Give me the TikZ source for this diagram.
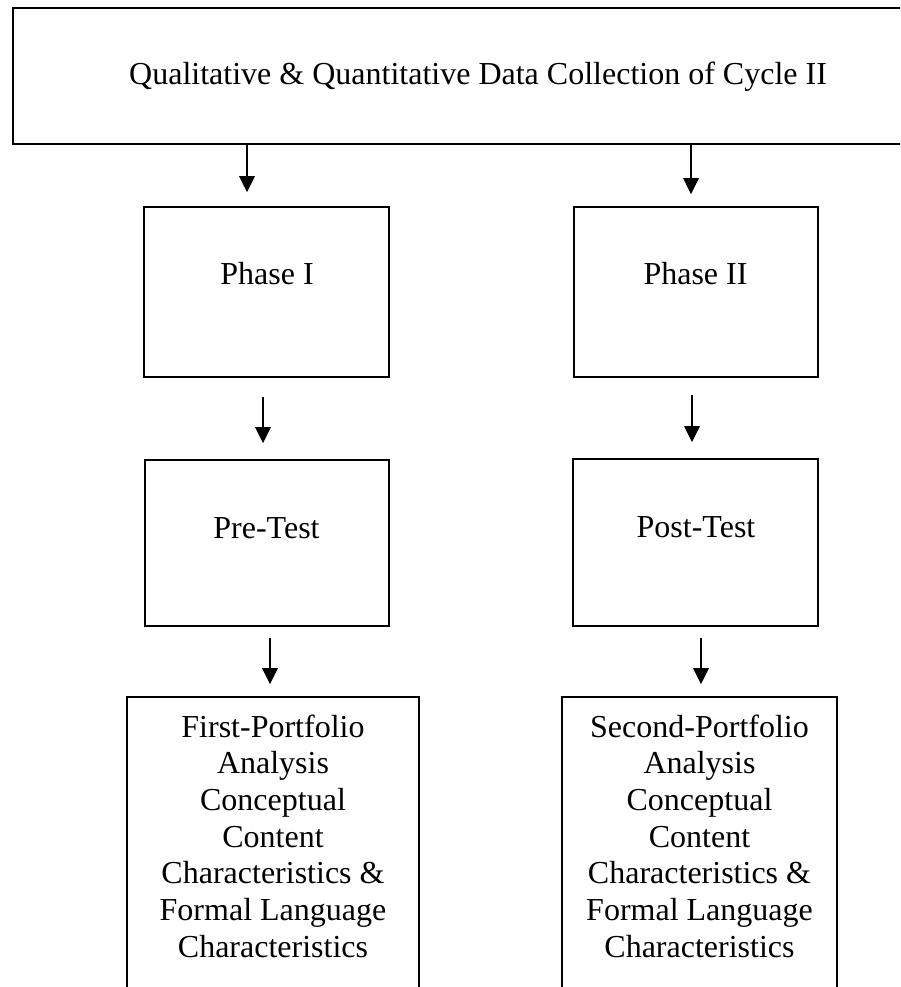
\documentclass[tikz,border=0pt]{standalone}
\usepackage{fontspec}
\setmainfont{Liberation Serif}
\usetikzlibrary{arrows.meta,fit}
\begin{document}
\begin{tikzpicture}[x=0.75pt,y=-0.75pt,
  box/.style={draw, line width=1.3pt, inner sep=0pt, rectangle},
  topbox/.style={draw, line width=1.8pt, inner sep=0pt, rectangle},
  txt/.style={font=\fontsize{24pt}{27.5pt}\selectfont, inner sep=0pt, align=center},
  arr/.style={line width=1.5pt, -{Triangle[length=12pt,width=11.5pt]}}]
\useasboundingbox (0,0) rectangle (900,987);
\clip (0,0) rectangle (900,987);

% frames
\node[topbox, fit={(13,8) (930,144)}] (top) {};
\node[box, fit={(144,207) (389,377)}] (ph1) {};
\node[box, fit={(574,207) (818,377)}] (ph2) {};
\node[box, fit={(145,460) (389,626)}] (pre) {};
\node[box, fit={(573,459) (818,626)}] (post) {};
\node[box, fit={(127,697) (419,1010)}] (an1) {};
\node[box, fit={(562,697) (837,1010)}] (an2) {};

% labels (multi-line labels are anchored on their last baseline)
\node[txt, anchor=base] (ttop) at (478,85) {Qualitative \& Quantitative Data Collection of Cycle II};
\node[txt, anchor=base] (tph1) at (267,285) {Phase I};
\node[txt, anchor=base] (tph2) at (695.5,285) {Phase II};
\node[txt, anchor=base] (tpre) at (266.5,538) {Pre-Test};
\node[txt, anchor=base] (tpost) at (696,537) {Post-Test};
\node[txt, anchor=base] (tan1) at (273,957) {First-Portfolio\\Analysis\\Conceptual\\Content\\Characteristics \&\\Formal Language\\Characteristics};
\node[txt, anchor=base] (tan2) at (699.5,957) {Second-Portfolio\\Analysis\\Conceptual\\Content\\Characteristics \&\\Formal Language\\Characteristics};

% arrow columns
\coordinate (x1) at (247,0);
\coordinate (x2) at (691,0);
\coordinate (x3) at (263,0);
\coordinate (x4) at (692,0);
\coordinate (x5) at (270,0);
\coordinate (x6) at (701,0);

% connectors
\draw[arr, shorten >=10.5pt] (top.south -| x1) -- (ph1.north -| x1);
\draw[arr, shorten >=9pt] (top.south -| x2) -- (ph2.north -| x2);
\draw[arr, shorten <=14.25pt, shorten >=12pt] (ph1.south -| x3) -- (pre.north -| x3);
\draw[arr, shorten <=12.75pt, shorten >=12pt] (ph2.south -| x4) -- (post.north -| x4);
\draw[arr, shorten <=8.25pt, shorten >=9pt] (pre.south -| x5) -- (an1.north -| x5);
\draw[arr, shorten <=8.25pt, shorten >=9pt] (post.south -| x6) -- (an2.north -| x6);
\end{tikzpicture}
\end{document}
